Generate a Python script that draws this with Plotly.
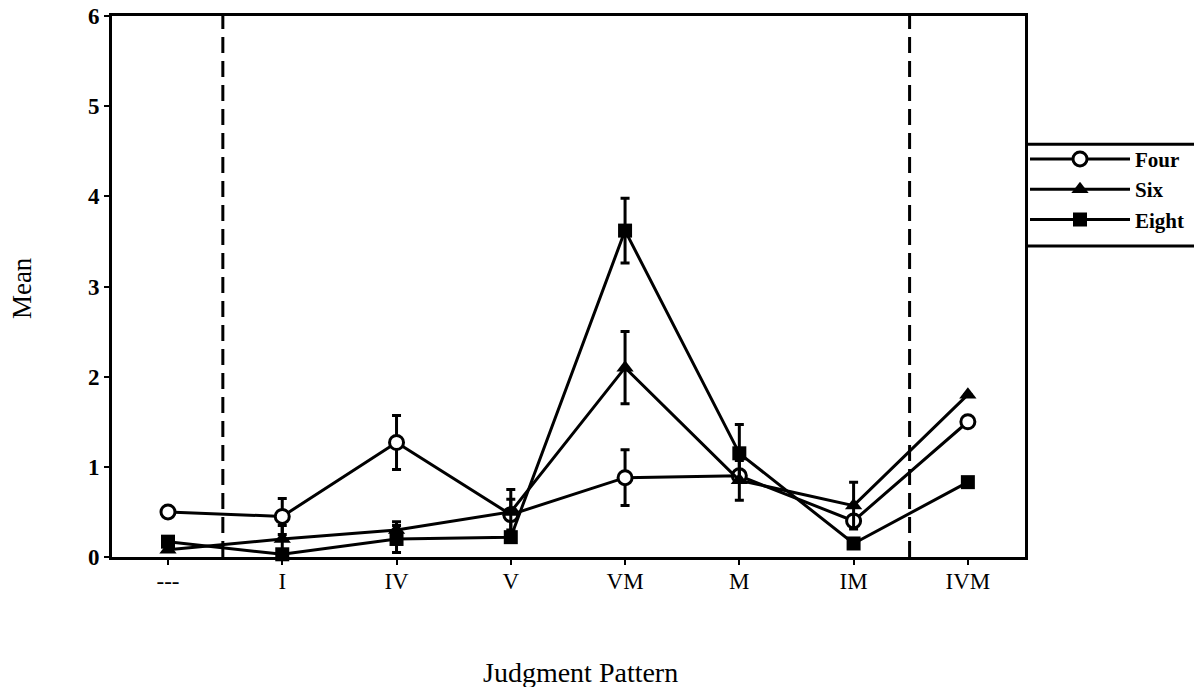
import plotly.graph_objects as go

# Judgment pattern categories and group means with standard errors
patterns = ["---", "I", "IV", "V", "VM", "M", "IM", "IVM"]

four_mean = [0.50, 0.45, 1.27, 0.47, 0.88, 0.90, 0.40, 1.50]
four_err = [0.00, 0.20, 0.30, 0.17, 0.31, 0.00, 0.00, 0.00]

six_mean = [0.08, 0.20, 0.30, 0.50, 2.10, 0.85, 0.57, 1.80]
six_err = [0.00, 0.15, 0.09, 0.25, 0.40, 0.22, 0.26, 0.00]

eight_mean = [0.17, 0.03, 0.20, 0.22, 3.62, 1.15, 0.15, 0.83]
eight_err = [0.00, 0.00, 0.15, 0.00, 0.36, 0.32, 0.00, 0.00]

# Boundaries separating the first and last pattern from the rest
divider_positions = [0.48, 6.49]

y_ticks = [0, 1, 2, 3, 4, 5, 6]

SERIF = "Liberation Serif, Times New Roman, serif"
x_idx = list(range(len(patterns)))

series = [
    ("Four", four_mean, four_err, dict(symbol="circle", size=14, color="white", line=dict(width=3, color="black"))),
    ("Six", six_mean, six_err, dict(symbol="triangle-up", size=15, color="black")),
    ("Eight", eight_mean, eight_err, dict(symbol="square", size=14, color="black")),
]

fig = go.Figure()
for name, mean, err, marker in series:
    fig.add_trace(go.Scatter(
        x=x_idx, y=mean, name=name, mode="lines+markers",
        line=dict(color="black", width=3),
        marker=marker,
        error_y=dict(type="data", array=err, visible=True, color="black", thickness=3, width=4.5),
        cliponaxis=False,
    ))

for xp in divider_positions:
    fig.add_shape(type="line", xref="x", yref="y", x0=xp, x1=xp, y0=0, y1=6,
                  line=dict(color="black", width=3, dash="16px,8px"), layer="below")

# legend frame (open on the right)
for yy in (0.763, 0.575):
    fig.add_shape(type="line", xref="paper", yref="paper", x0=1.0, x1=1.2, y0=yy, y1=yy,
                  line=dict(color="black", width=3))

fig.update_layout(
    width=1194, height=687,
    margin=dict(l=112, r=169, t=16, b=130, autoexpand=False),
    plot_bgcolor="white", paper_bgcolor="white",
    font=dict(family=SERIF, color="black", size=22),
    showlegend=True,
    legend=dict(x=1.0, y=0.773, xanchor="left", yanchor="top",
                font=dict(family=SERIF, size=21, color="black", weight="bold"),
                bgcolor="rgba(0,0,0,0)", borderwidth=0, itemwidth=100,
                tracegroupgap=0),
    xaxis=dict(
        range=[-0.49, 7.50], tickmode="array", tickvals=x_idx, ticktext=patterns,
        automargin=False, ticklabelstandoff=-4,
        showgrid=False, zeroline=False, showline=True, linecolor="black", linewidth=3,
        mirror=True, ticks="outside", ticklen=5, tickwidth=2, tickcolor="black",
        tickfont=dict(family=SERIF, size=23, color="black"),
    ),
    yaxis=dict(
        range=[0, 6], tickmode="array", tickvals=y_ticks,
        ticktext=[f"<b>{v}</b>" for v in y_ticks], ticklabeloverflow="allow",
        automargin=False,
        showgrid=False, zeroline=False, showline=True, linecolor="black", linewidth=3,
        mirror=True, ticks="outside", ticklen=5, tickwidth=2, tickcolor="black",
        tickfont=dict(family=SERIF, size=23, color="black"),
    ),
    annotations=[
        dict(text="Mean", xref="paper", yref="paper", x=-0.0986, y=0.497,
             textangle=-90, showarrow=False, font=dict(family=SERIF, size=27, color="black"),
             xanchor="center", yanchor="middle"),
        dict(text="Judgment Pattern", xref="paper", yref="paper", x=0.5126, y=-0.214,
             showarrow=False, font=dict(family=SERIF, size=28, color="black"),
             xanchor="center", yanchor="middle"),
    ],
)

fig.write_html("out.html")
